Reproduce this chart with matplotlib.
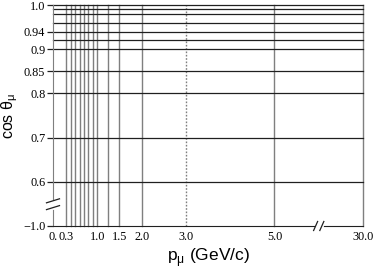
import matplotlib
matplotlib.use("Agg")
import matplotlib.pyplot as plt
import numpy as np

# bin edges of the (p_mu, cos theta_mu) grid
p_edges = [0.3, 0.4, 0.5, 0.6, 0.7, 0.8, 0.9, 1.0, 1.25, 1.5, 2.0, 3.0, 5.0, 30.0]
cos_edges = [0.6, 0.7, 0.8, 0.85, 0.90, 0.92, 0.94, 0.96, 0.98, 0.99, 1.0]
dotted_p = [3.0]

p_ticks = [0.0, 0.3, 1.0, 1.5, 2.0, 3.0, 5.0, 30.0]
p_tick_labels = ["0.", "0.3", "1.0", "1.5", "2.0", "3.0", "5.0", "30.0"]
cos_ticks = [-1.0, 0.6, 0.7, 0.8, 0.85, 0.9, 0.94, 1.0]
cos_tick_labels = ["\u22121.0", "0.6", "0.7", "0.8", "0.85", "0.9", "0.94", "1.0"]


# broken axes: compress the tails (p > 5, cos < 0.6)
def px(p):
    return np.interp(p, [0.0, 5.0, 30.0], [0.0, 5.0, 7.0])


def cy(c):
    return np.interp(c, [-1.0, 0.6, 1.0], [0.5, 0.6, 1.0])


serif = "Liberation Serif"
sans = "Liberation Sans"

fig = plt.figure(figsize=(3.74, 2.71), dpi=100)
ax = fig.add_axes([53 / 374, 1 - 226 / 271, 310 / 374, 221 / 271])

ax.set_xlim(px(0.0), px(30.0))
ax.set_ylim(cy(-1.0), cy(1.0))

for p in p_edges:
    ls = (0, (1.2, 1.2)) if p in dotted_p else "-"
    ax.axvline(px(p), color="#7f7f7f", lw=1.0, ls=ls, zorder=1, clip_on=False)
for c in cos_edges:
    ax.axhline(cy(c), color="#202020", lw=0.9, zorder=2, clip_on=False)

for s in ["top", "right"]:
    ax.spines[s].set_visible(False)
ax.spines["left"].set_color("#7f7f7f")
ax.spines["bottom"].set_color("#202020")

ax.set_xticks(px(np.array(p_ticks)))
ax.set_xticklabels(p_tick_labels, fontfamily=serif, fontsize=8.8)
ax.set_yticks(cy(np.array(cos_ticks)))
ax.set_yticklabels(cos_tick_labels, fontfamily=serif, fontsize=8.8)
ax.tick_params(axis="x", length=0, pad=3.5)
ax.tick_params(axis="y", length=4, width=0.9, color="#202020", pad=1.5, direction="out")

# break marks
dx, dy = 1 / 44.2, 1 / 440
bx = [5.93, 6.07]
ax.plot([bx[0], bx[1]], [0.5, 0.5], color="white", lw=2, clip_on=False, zorder=5)
for b in bx:
    ax.plot([b - 2 * dx, b + 2 * dx], [0.5 - 4.5 * dy, 0.5 + 4.5 * dy],
            color="#202020", lw=0.9, clip_on=False, zorder=6)
by = [0.5416, 0.557]
ax.plot([0, 0], by, color="white", lw=2, clip_on=False, zorder=5)
for b in by:
    ax.plot([-6.5 * dx, 6.5 * dx], [b - 2 * dy, b + 2 * dy],
            color="#202020", lw=0.9, clip_on=False, zorder=6)

ax.set_xlabel("p$_{\\mathregular{μ}}$ (GeV/c)", fontfamily=sans, fontsize=12.5, labelpad=2)
ax.set_ylabel("cos θ$_{\\mathregular{μ}}$", fontfamily=sans, fontsize=11.5)
ax.yaxis.set_label_coords(-0.105, 0.5)

fig.savefig("out.png", dpi=100)
